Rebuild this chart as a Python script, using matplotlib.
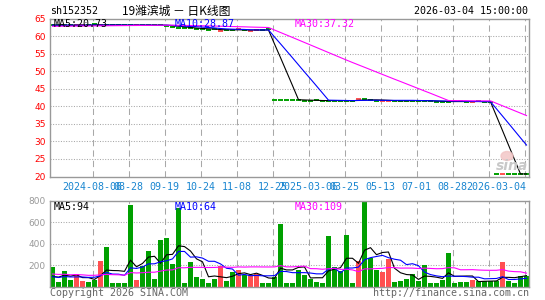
import matplotlib
matplotlib.use('Agg')
import matplotlib.pyplot as plt
from matplotlib.patches import Ellipse
from matplotlib.transforms import blended_transform_factory
import numpy as np
import pandas as pd

W, H = 545, 300
MONO = 'DejaVu Sans Mono'

# sessions before the window, only used to warm up the moving averages
pre_close = [62.6, 62.5, 62.6, 62.7, 62.6, 62.5, 62.6, 62.6, 62.7, 62.6,
             62.6, 62.5, 62.6, 62.7, 62.6, 62.6, 62.6, 62.7, 62.6, 62.6,
             63.1, 63.1, 63.1, 63.1, 63.1, 63.1, 63.1, 63.1, 63.1]
pre_vol = [150, 95, 210, 60, 130, 180, 45, 120, 260, 90,
           75, 140, 35, 170, 110, 200, 65, 125, 155, 165,
           120, 60, 95, 110, 60, 80, 50, 110, 50]

close = [63.1, 63.1, 63.1, 63.1, 63.1, 63.1, 63.1, 63.4, 63.1, 63.1,
         63.1, 63.1, 63.1, 63.1, 63.1, 63.1, 63.1, 63.1, 63.1, 63.0,
         62.5, 62.3, 62.2, 62.3, 62.1, 61.9, 61.8, 62.0, 61.4, 61.8,
         61.8, 61.9, 61.8, 61.3, 61.8, 61.8, 61.9, 41.9, 41.9, 41.9,
         41.9, 41.7, 41.6, 41.6, 41.7, 41.6, 41.6, 41.6, 41.6, 41.6,
         41.6, 42.0, 42.0, 41.9, 41.6, 41.4, 41.6, 41.6, 41.6, 41.6,
         41.6, 41.6, 41.6, 41.5, 41.2, 41.2, 41.3, 41.5, 41.5, 41.2,
         41.2, 41.4, 41.3, 41.3, 20.73, 20.73, 20.73, 20.73, 20.73, 20.73]
vol = [185, 42, 145, 61, 115, 53, 40, 65, 240, 370,
       33, 33, 33, 763, 61, 188, 332, 70, 435, 457,
       210, 732, 33, 229, 90, 70, 33, 70, 190, 51,
       136, 154, 106, 110, 117, 33, 33, 88, 588, 33,
       33, 154, 108, 72, 42, 33, 476, 185, 145, 482,
       33, 238, 800, 264, 154, 136, 260, 42, 51, 70,
       117, 51, 201, 33, 33, 61, 313, 33, 42, 42,
       61, 51, 48, 50, 50, 229, 51, 33, 95, 100]
# r = up day, g = down day
updown = ('ggggrrggrg' 'ggggrggggg' 'ggggggggrg' 'grgrrggggg'
          'gggggggggg' 'grgggrrggg' 'gggggggggg' 'rggggrgggg')

date_labels = ['2024-08-06', '08-28', '09-19', '10-24', '11-08', '12-25',
               '2025-03-06', '03-25', '05-13', '07-01', '08-28']
last_date = '2026-03-04'
price_ticks = [20, 25, 30, 35, 40, 45, 50, 55, 60, 65]
vol_ticks = [200, 400, 600, 800]

price_ma_text = ['MA5:20.73', 'MA10:28.87', 'MA30:37.32']
vol_ma_text = ['MA5:94', 'MA10:64', 'MA30:109']
ma_colors = ['black', '#0000ff', '#ff00ff']
ma_periods = [5, 10, 30]

RED, GREEN, GRID = '#ff5050', '#00a000', '#a8a8a8'

x = np.arange(len(close))
cols = [RED if c == 'r' else GREEN for c in updown]


def moving(pre, vals, n):
    s = pd.Series(list(pre) + list(vals), dtype=float)
    return s.rolling(n, min_periods=1).mean().values[len(pre):]


fig = plt.figure(figsize=(W / 100, H / 100), dpi=100)
ax = fig.add_axes([50 / W, 1 - 176.5 / H, 479 / W, 158 / H])
axv = fig.add_axes([50 / W, 1 - 286.5 / H, 479 / W, 85.5 / H])

xlim = (-2.5 / 6, 476.5 / 6)
grid_x = np.arange(6.67, 79, 6)

for a in (ax, axv):
    a.set_xlim(*xlim)
    for s in a.spines.values():
        s.set_color('#999999')
        s.set_linewidth(1.0)
    a.set_xticks([])
    a.tick_params(axis='y', length=0, pad=3, labelsize=6.5)
    for gx in grid_x:
        a.axvline(gx, color=GRID, lw=0.75, ls=(0, (6, 4)), zorder=0)

# price panel
ax.set_ylim(20, 65)
ax.set_yticks(price_ticks)
ax.set_yticklabels([str(t) for t in price_ticks], color='#ff0000')
for t in price_ticks[1:-1]:
    ax.axhline(t, color=GRID, lw=0.75, ls=(0, (1, 1.5)), zorder=0)
ax.hlines(close, x - 0.42, x + 0.42, colors=cols, lw=1.4, zorder=2)
for n, c in zip(ma_periods, ma_colors):
    ax.plot(x, moving(pre_close, close, n), color=c, lw=0.8, zorder=3)

# volume panel
axv.set_ylim(0, 800)
axv.set_yticks(vol_ticks)
axv.set_yticklabels([str(t) for t in vol_ticks], color='#999999')
for t in vol_ticks[:-1]:
    axv.axhline(t, color=GRID, lw=0.75, ls=(0, (1, 1.5)), zorder=0)
axv.bar(x, vol, width=0.83, color=cols, linewidth=0, zorder=2)
for n, c in zip(ma_periods, ma_colors):
    axv.plot(x, moving(pre_vol, vol, n), color=c, lw=0.8, zorder=3)

# date labels under the price panel
tr = blended_transform_factory(ax.transData, ax.transAxes)
for gx, lab in zip(grid_x, date_labels):
    ax.text(gx, -0.068, lab, transform=tr, ha='center', va='center',
            color='#1a86d0', fontsize=7.2, family=MONO)
ax.text(x[-1], -0.068, last_date, transform=tr, ha='right', va='center',
        color='#1a86d0', fontsize=7.2, family=MONO)

# header
fig.text(50 / W, 1 - 11 / H, 'sh152352', ha='left', va='center',
         fontsize=7.2, family=MONO)
fig.text(122 / W, 1 - 11 / H, '19潍滨城 － 日K线图', ha='left', va='center',
         fontsize=8.5, family=['Noto Sans CJK SC', 'DejaVu Sans'])
fig.text(528 / W, 1 - 11 / H, '2026-03-04 15:00:00', ha='right', va='center',
         fontsize=7.2, family=MONO)

for px, t, c in zip([54, 175, 295], price_ma_text, ma_colors):
    fig.text(px / W, 1 - 24 / H, t, color=c, ha='left', va='center',
             fontsize=7.2, family=MONO)
for px, t, c in zip([54, 175, 295], vol_ma_text, ma_colors):
    fig.text(px / W, 1 - 206.5 / H, t, color=c, ha='left', va='center',
             fontsize=7.2, family=MONO)

fig.text(50 / W, 1 - 292.5 / H, 'Copyright 2026 SINA.COM', ha='left',
         va='center', color='#666666', fontsize=7.2, family=MONO)
fig.text(529 / W, 1 - 292.5 / H, 'http://finance.sina.com.cn', ha='right',
         va='center', color='#666666', fontsize=7.2, family=MONO)

# faint sina watermark
fig.patches.append(Ellipse((507 / W, 1 - 156 / H), 12 / W, 9 / H,
                           transform=fig.transFigure, color='#f2c4c4',
                           alpha=0.8, zorder=1))
fig.text(512 / W, 1 - 166 / H, 'sina', ha='center', va='center',
         color='#c8c8c8', fontsize=10, style='italic', weight='bold')

fig.savefig('out.png', dpi=100)
